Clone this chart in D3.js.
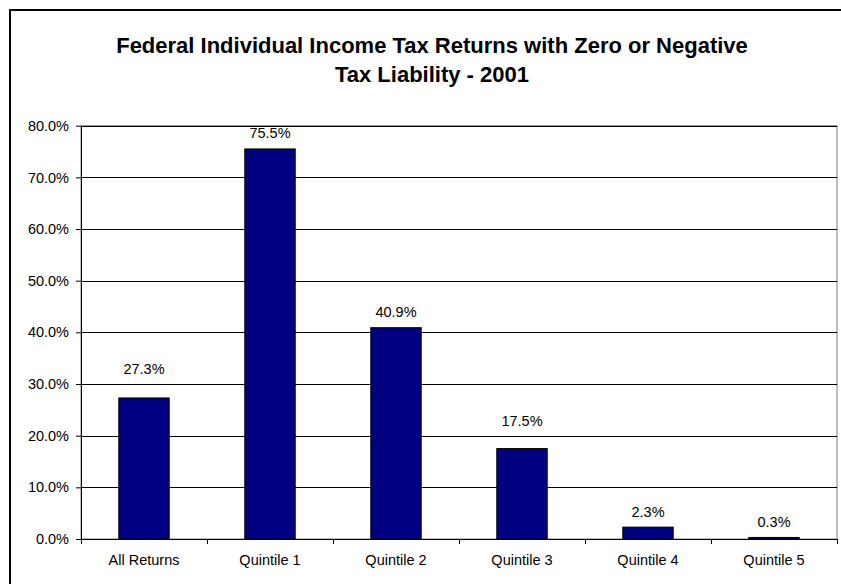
<!DOCTYPE html>
<html>
<head>
<meta charset="utf-8">
<script src="https://cdn.jsdelivr.net/npm/d3@7/dist/d3.min.js"></script>
<style>
  html, body { margin: 0; padding: 0; background: #fff; }
  svg { display: block; }
  text { font-family: "Liberation Sans", Arial, sans-serif; fill: #000; }
</style>
</head>
<body>
<svg id="chart" width="841" height="584"></svg>
<script>
// ---- data ----
const categories = ["All Returns", "Quintile 1", "Quintile 2", "Quintile 3", "Quintile 4", "Quintile 5"];
const values = [27.3, 75.5, 40.9, 17.5, 2.3, 0.3];
const yTicks = [0, 10, 20, 30, 40, 50, 60, 70, 80];
const titleLines = ["Federal Individual Income Tax Returns with Zero or Negative", "Tax Liability - 2001"];

// ---- layout ----
const svg = d3.select("#chart");
const W = 841, H = 584;
const plot = { left: 81, right: 837, top: 125.7, bottom: 539 };

// outer chart border (right/bottom edges fall outside the window)
svg.append("rect")
  .attr("x", 10).attr("y", 10)
  .attr("width", 844).attr("height", 590)
  .attr("fill", "#fff").attr("stroke", "#000").attr("stroke-width", 2);

// title
svg.append("g").selectAll("text").data(titleLines).join("text")
  .attr("x", 432)
  .attr("y", (d, i) => 53 + i * 29)
  .attr("text-anchor", "middle")
  .attr("font-size", "22px")
  .attr("font-weight", "bold")
  .text(d => d);

const x = d3.scaleBand().domain(categories).range([plot.left, plot.right]).padding(0);
const y = d3.scaleLinear().domain([0, 80]).range([plot.bottom, plot.top]);
const barW = x.bandwidth() * 0.4;

// plot frame (top/right)
svg.append("rect")
  .attr("x", plot.left).attr("y", plot.top)
  .attr("width", plot.right - plot.left).attr("height", plot.bottom - plot.top)
  .attr("fill", "none").attr("stroke", "#808080").attr("stroke-width", 1);

// gridlines
svg.append("g").selectAll("line").data(yTicks.filter(t => t > 0)).join("line")
  .attr("x1", plot.left).attr("x2", plot.right)
  .attr("y1", d => Math.round(y(d)) + 0.5).attr("y2", d => Math.round(y(d)) + 0.5)
  .attr("stroke", "#000").attr("stroke-width", 1);

// y axis
const yAxis = d3.axisLeft(y).tickValues(yTicks).tickSize(5).tickPadding(7)
  .tickFormat(d => d.toFixed(1) + "%");
const gy = svg.append("g").attr("transform", `translate(${plot.left},0)`).call(yAxis);
gy.selectAll("text").attr("font-size", "14.5px").attr("font-family", "Liberation Sans, Arial, sans-serif");
gy.selectAll("line,path").attr("stroke", "#000");
gy.select(".domain").attr("d", `M0.5,${plot.top}V${plot.bottom}`);

// bars
svg.append("g").selectAll("rect").data(values).join("rect")
  .attr("x", (d, i) => x(categories[i]) + (x.bandwidth() - barW) / 2)
  .attr("y", d => y(d))
  .attr("width", barW)
  .attr("height", d => y(0) - y(d))
  .attr("fill", "#000080")
  .attr("stroke", "#000").attr("stroke-width", 1);

// x axis
const xAxisLine = svg.append("g");
xAxisLine.append("line")
  .attr("x1", plot.left).attr("x2", plot.right)
  .attr("y1", plot.bottom + 0.5).attr("y2", plot.bottom + 0.5)
  .attr("stroke", "#000");
const boundaries = categories.map(c => x(c)).concat([plot.right]);
xAxisLine.selectAll("line.tk").data(boundaries).join("line").attr("class", "tk")
  .attr("x1", d => Math.round(d) + 0.5).attr("x2", d => Math.round(d) + 0.5)
  .attr("y1", plot.bottom).attr("y2", plot.bottom + 5)
  .attr("stroke", "#000");
xAxisLine.selectAll("text").data(categories).join("text")
  .attr("x", d => x(d) + x.bandwidth() / 2)
  .attr("y", 565)
  .attr("text-anchor", "middle")
  .attr("font-size", "14.5px")
  .text(d => d);

// value labels: above bar, moved above a gridline if it would collide
const capH = 10.5;
function labelY(v) {
  let base = y(v) - 10.5;
  for (const t of yTicks) {
    const gy = y(t);
    if (t > 0 && gy > base - capH - 1 && gy < base + 2) { base = gy - 10; }
  }
  return base;
}
svg.append("g").selectAll("text").data(values).join("text")
  .attr("x", (d, i) => x(categories[i]) + x.bandwidth() / 2)
  .attr("y", d => labelY(d))
  .attr("text-anchor", "middle")
  .attr("font-size", "14.5px")
  .text(d => d.toFixed(1) + "%");
</script>
</body>
</html>
